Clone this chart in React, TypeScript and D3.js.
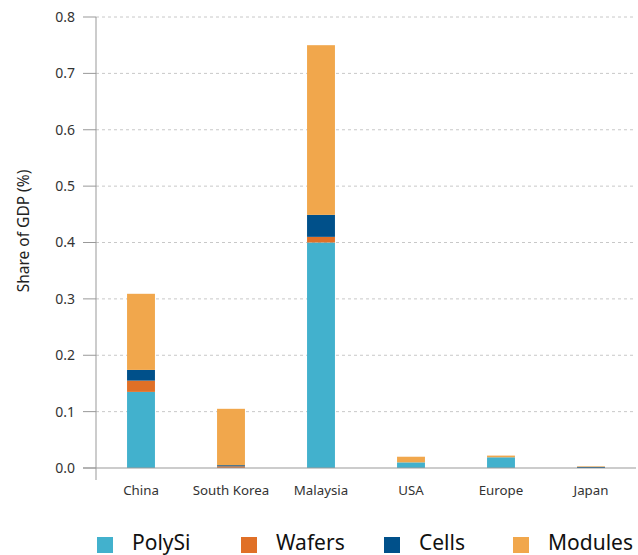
import React from "react";
import * as d3 from "d3";

const categories = ["China", "South Korea", "Malaysia", "USA", "Europe", "Japan"];
const seriesNames = ["PolySi", "Wafers", "Cells", "Modules"];
const polySi = [0.135, 0.0, 0.4, 0.01, 0.019, 0.0];
const wafers = [0.02, 0.003, 0.01, 0.0, 0.0, 0.0];
const cells = [0.019, 0.002, 0.039, 0.0, 0.0, 0.002];
const modules = [0.135, 0.1, 0.301, 0.01, 0.003, 0.001];
const yTicks = [0, 0.1, 0.2, 0.3, 0.4, 0.5, 0.6, 0.7, 0.8];
const colors = ["#42b1cd", "#e07027", "#00508a", "#f1a74c"];

const W = 638;
const H = 555;
const left = 96;
const right = 636;
const top = 17;
const bottom = 468;

export default function App() {
  const rows = categories.map((c, i) => ({
    cat: c,
    PolySi: polySi[i],
    Wafers: wafers[i],
    Cells: cells[i],
    Modules: modules[i],
  }));
  const stack = d3.stack<any>().keys(seriesNames)(rows);
  const x = d3.scaleBand().domain(categories).range([left, right]).paddingInner(0.69).paddingOuter(0.345);
  const y = d3.scaleLinear().domain([0, 0.8]).range([bottom, top]);
  const font = "'Noto Sans', 'Open Sans', sans-serif";
  const legendX = [97, 241, 384, 513];

  return (
    <svg width={W} height={H} style={{ position: "absolute", left: 0, top: 0 }} fontFamily={font}>
      {yTicks.map((t) => (
        <g key={t}>
          {t > 0 && (
            <line x1={left} x2={right} y1={y(t)} y2={y(t)} stroke="#c8c8c8" strokeDasharray="3,3" strokeWidth={1} />
          )}
          <line x1={83} x2={left} y1={y(t)} y2={y(t)} stroke="#999" strokeWidth={1} />
          <text x={75} y={y(t)} dy="0.35em" textAnchor="end" fontSize={14} fill="#333">
            {d3.format(".1f")(t)}
          </text>
        </g>
      ))}
      {stack.map((s, si) => (
        <g key={s.key} fill={colors[si]}>
          {s.map((d, i) => {
            const h = y(d[0]) - y(d[1]);
            if (h <= 0) return null;
            return (
              <rect key={i} x={x(categories[i])} width={x.bandwidth()} y={y(d[1])} height={h} />
            );
          })}
        </g>
      ))}
      <line x1={left} x2={left} y1={top} y2={480} stroke="#999" strokeWidth={1} />
      <line x1={83} x2={right} y1={bottom} y2={bottom} stroke="#999" strokeWidth={1.2} />
      {categories.map((c) => (
        <text key={c} x={(x(c) as number) + x.bandwidth() / 2} y={495} textAnchor="middle" fontSize={13.3} fill="#333">
          {c}
        </text>
      ))}
      <text transform={`translate(29,231) rotate(-90)`} textAnchor="middle" fontSize={15.5} fill="#222">
        Share of GDP (%)
      </text>
      {seriesNames.map((n, i) => (
        <g key={n}>
          <rect x={legendX[i]} y={537} width={16} height={16} fill={colors[i]} />
          <text x={legendX[i] + 35} y={550} fontSize={21} fill="#111">
            {n}
          </text>
        </g>
      ))}
    </svg>
  );
}
